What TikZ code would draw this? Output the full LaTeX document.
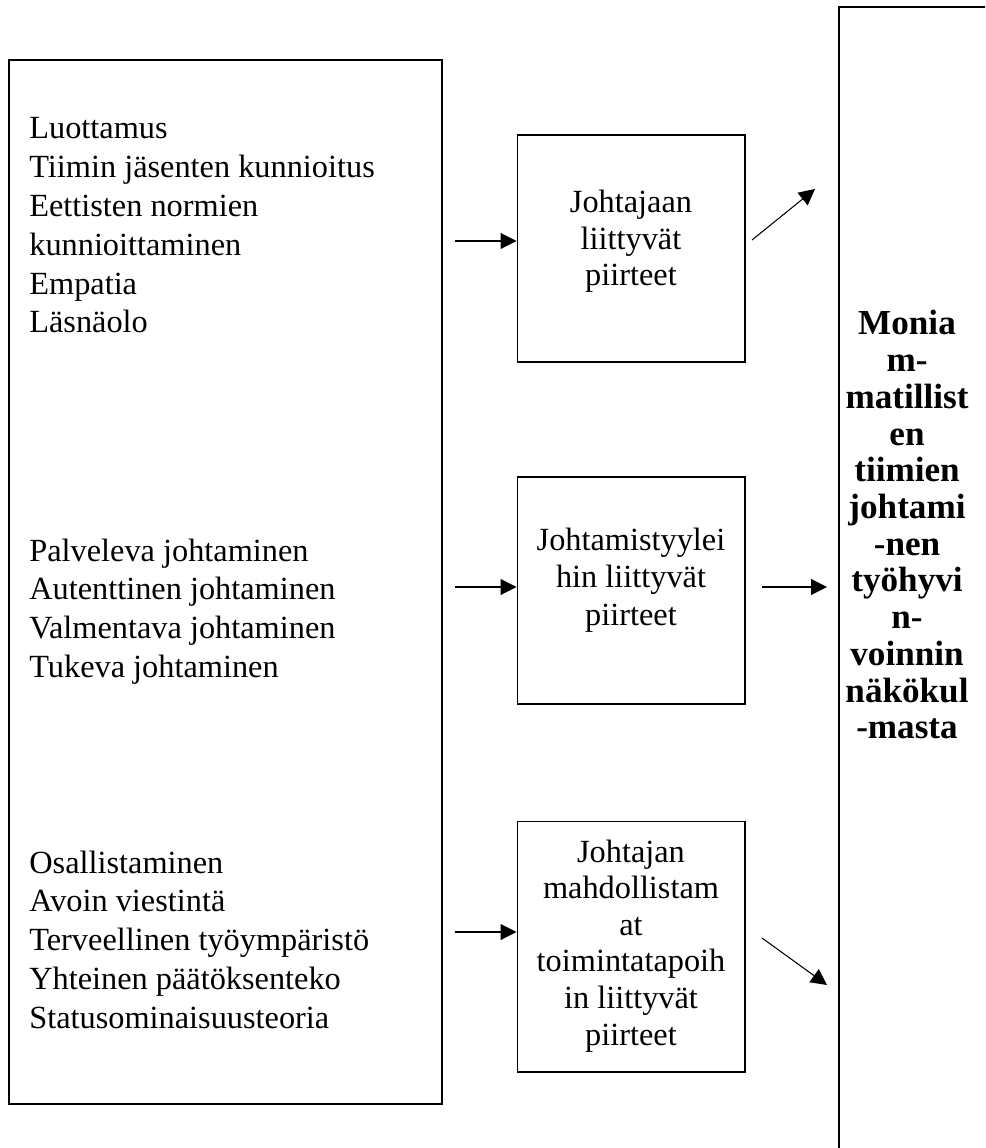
\documentclass[tikz,border=0pt]{standalone}
\usepackage{fontspec}
\setmainfont{Liberation Serif}
\usetikzlibrary{arrows.meta}

\tikzset{
  box/.style={draw, line width=0.6pt, minimum width=4.56cm, inner sep=0pt},
  txt/.style={anchor=base, font=\fontsize{18.4}{21}\selectfont, inner sep=0pt},
  lefttxt/.style={txt, anchor=base west},
  boldtxt/.style={txt, font=\fontsize{20}{21}\selectfont\bfseries},
  arr/.style={-{Triangle[length=0.32cm,width=0.32cm]}, line width=0.6pt},
}

\begin{document}
\begin{tikzpicture}[x=0.02cm, y=-0.02cm]
  \useasboundingbox (0,0) rectangle (985,1148);
  \clip (0,0) rectangle (985,1148);

  % Left Text Box
  \draw[line width=0.6pt] (9,60) rectangle (442,1104);

  \foreach \t [count=\i] in {Luottamus, Tiimin jäsenten kunnioitus,
      Eettisten normien, kunnioittaminen, Empatia, Läsnäolo}
    \node[lefttxt] (a\i) at (29, {139+38.8*(\i-1)}) {\t};

  \foreach \t [count=\i] in {Palveleva johtaminen, Autenttinen johtaminen,
      Valmentava johtaminen, Tukeva johtaminen}
    \node[lefttxt] (b\i) at (29, {561+38.8*(\i-1)}) {\t};

  \foreach \t [count=\i] in {Osallistaminen, Avoin viestintä,
      Terveellinen työympäristö, Yhteinen päätöksenteko, Statusominaisuusteoria}
    \node[lefttxt] (c\i) at (29, {873+38.8*(\i-1)}) {\t};

  % Middle Boxes
  \node[box, minimum height=4.54cm] (lead) at (631,248.5) {};
  \node[box, minimum height=4.54cm] (style) at (631,590.5) {};
  \node[box, minimum height=5.02cm] (enable) at (631,946.5) {};

  \foreach \t [count=\i] in {Johtajaan, liittyvät, piirteet}
    \node[txt] (lt\i) at (631, {213+36.5*(\i-1)}) {\t};

  \foreach \t [count=\i] in {Johtamistyylei, hin liittyvät, piirteet}
    \node[txt] (st\i) at (631, {550+37.5*(\i-1)}) {\t};

  \foreach \t [count=\i] in {Johtajan, mahdollistam, at, toimintatapoih,
      in liittyvät, piirteet}
    \node[txt] (et\i) at (631, {862+36.6*(\i-1)}) {\t};

  % Right Box (runs off the page)
  \draw[line width=0.6pt] (839,7) rectangle (1010,1170);

  \foreach \t [count=\i] in {Monia, m-, matillist, en, tiimien, johtami,
      -nen, työhyvi, n-, voinnin, näkökul, -masta}
    \node[boldtxt] (r\i) at (907, {335+36.7*(\i-1)}) {\t};

  % Incoming Arrows
  \coordinate (in1) at (455,241);
  \coordinate (in2) at (455,587);
  \coordinate (in3) at (455,932);
  \draw[arr] (in1) -- (in1 -| lead.west);
  \draw[arr] (in2) -- (in2 -| style.west);
  \draw[arr] (in3) -- (in3 -| enable.west);

  % Outgoing Arrows
  \coordinate (out1) at (752,240);
  \coordinate (tip1) at (815,189);
  \coordinate (out2) at (762,587);
  \coordinate (tip2) at (827,587);
  \coordinate (out3) at (762,938);
  \coordinate (tip3) at (827,985);
  \draw[arr] (out1) -- (tip1);
  \draw[arr] (out2) -- (tip2);
  \draw[arr] (out3) -- (tip3);

\end{tikzpicture}
\end{document}
